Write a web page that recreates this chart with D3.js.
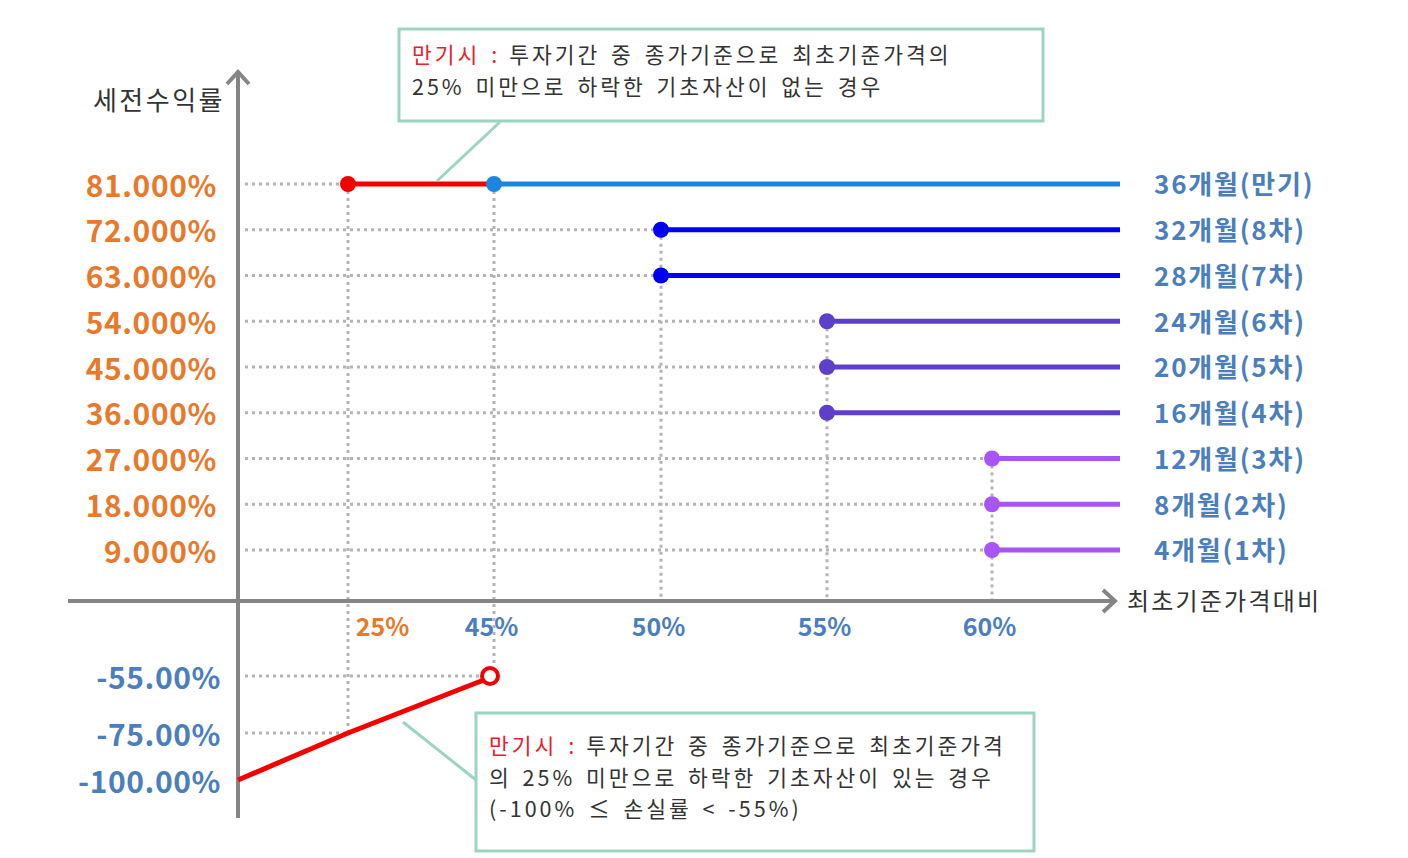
<!DOCTYPE html>
<html>
<head>
<meta charset="utf-8">
<script src="https://cdn.jsdelivr.net/npm/d3@7"></script>
<style>
  body { margin: 0; background: #fff; }
  svg { display: block; font-family: "Noto Sans CJK KR", "Noto Sans", sans-serif; }
</style>
</head>
<body>
<svg id="chart" width="1408" height="858"></svg>
<script>
// payoff rows (early redemption schedule)
const rowLabels = ["36개월(만기)", "32개월(8차)", "28개월(7차)", "24개월(6차)", "20개월(5차)",
                   "16개월(4차)", "12개월(3차)", "8개월(2차)", "4개월(1차)"];
const rowRates = [81, 72, 63, 54, 45, 36, 27, 18, 9];
const rowBarriers = [45, 50, 50, 55, 55, 55, 60, 60, 60];

// maturity with knock-in (loss case)
const lossX = [0, 25, 45];
const lossY = [-100, -75, -55];
const lossTicks = [-55, -75, -100];

// maturity without knock-in (red segment 25% ~ 45%)
const maturityFrom = 25;
const maturityTo = 45;

const xTicks = [25, 45, 50, 55, 60];

const notePrefix = "만기시 :";
const topNote = ["투자기간 중 종가기준으로 최초기준가격의", "25% 미만으로 하락한 기초자산이 없는 경우"];
const bottomNote = ["투자기간 중 종가기준으로 최초기준가격", "의 25% 미만으로 하락한 기초자산이 있는 경우", "(-100% ≤ 손실률 < -55%)"];

const rowColors = ["#1a86e0", "#0000f5", "#0000f5", "#5e3fc8", "#5e3fc8", "#5e3fc8", "#a855f7", "#a855f7", "#a855f7"];
const orange = "#e8792a";
const blueText = "#4a7ebd";
const grid = "#b4b4b4";
const axisGray = "#858585";
const teal = "#9ed3c3";

const svg = d3.select("#chart");

// schematic (piecewise) scales, like the original diagram
const x = d3.scaleLinear()
  .domain([0, 25, 45, 50, 55, 60, 65])
  .range([238, 348, 494, 661, 827, 992, 1120]);
const y = d3.scaleLinear()
  .domain([-100, -75, -55, 0, 9, 81])
  .range([780, 733, 676, 601, 550, 184]);

const x0 = x(0), yAxis0 = y(0);

// dotted guide lines
const guides = svg.append("g")
  .attr("stroke", grid).attr("stroke-width", 3).attr("stroke-dasharray", "3,4").attr("fill", "none");

rowRates.forEach((r, i) => {
  let xs = i === 0 ? maturityFrom : rowBarriers[i];
  guides.append("line").attr("x1", x0 + 7).attr("x2", x(xs)).attr("y1", y(r)).attr("y2", y(r));
});
// vertical guides from the first dot of each barrier down to the axis
const barrierTop = d3.rollup(rowRates.map((r, i) => [rowBarriers[i], r]), v => d3.max(v, d => d[1]), d => d[0]);
barrierTop.forEach((r, b) => {
  if (b === maturityTo) return;
  guides.append("line").attr("x1", x(b)).attr("x2", x(b)).attr("y1", y(r)).attr("y2", yAxis0);
});
guides.append("line").attr("x1", x(maturityTo)).attr("x2", x(maturityTo)).attr("y1", y(rowRates[0])).attr("y2", y(lossY[2]) - 10);
guides.append("line").attr("x1", x(maturityFrom)).attr("x2", x(maturityFrom)).attr("y1", y(rowRates[0])).attr("y2", y(lossY[1]));
guides.append("line").attr("x1", x0 + 7).attr("x2", x(lossX[2]) - 10).attr("y1", y(lossY[2])).attr("y2", y(lossY[2]));
guides.append("line").attr("x1", x0 + 7).attr("x2", x(lossX[1])).attr("y1", y(lossY[1])).attr("y2", y(lossY[1]));

// axes
const axes = svg.append("g").attr("stroke", axisGray).attr("stroke-width", 4).attr("fill", "none");
axes.append("line").attr("x1", 68).attr("x2", 1114).attr("y1", yAxis0).attr("y2", yAxis0);
axes.append("path").attr("d", `M1103,${yAxis0 - 11}L1115,${yAxis0}L1103,${yAxis0 + 11}`);
axes.append("line").attr("x1", x0).attr("x2", x0).attr("y1", 818).attr("y2", 73);
axes.append("path").attr("d", `M${x0 - 11},84L${x0},72L${x0 + 11},84`);

// y tick labels
const yAx = svg.append("g").attr("transform", `translate(${x0},0)`)
  .call(d3.axisLeft(y).tickValues(rowRates.concat(lossTicks)).tickSize(0).tickPadding(21)
    .tickFormat(d => d > 0 ? d.toFixed(3) + "%" : "-" + Math.abs(d).toFixed(2) + "%"));
yAx.select(".domain").remove();
yAx.selectAll("text")
  .attr("font-family", "Noto Sans CJK KR, sans-serif")
  .attr("font-size", 30).attr("font-weight", "bold")
  .attr("letter-spacing", 0.6)
  .attr("fill", d => d > 0 ? orange : blueText)
  .attr("dx", d => d > 0 ? 0 : 4)
  .attr("dy", "0.4em");

// x tick labels
const xAx = svg.append("g").attr("transform", `translate(0,${yAxis0})`)
  .call(d3.axisBottom(x).tickValues(xTicks).tickSize(0).tickPadding(17).tickFormat(d => d + "%"));
xAx.select(".domain").remove();
xAx.selectAll("text")
  .attr("font-family", "Noto Sans CJK KR, sans-serif")
  .attr("font-size", 25).attr("font-weight", "bold")
  .attr("fill", d => d === 25 ? orange : blueText)
  .attr("dx", d => d === 25 ? 34 : -3);

// axis titles
svg.append("text").attr("x", 225).attr("y", 110).attr("text-anchor", "end")
  .attr("font-size", 26).attr("letter-spacing", 2.5).attr("fill", "#333").text("세전수익률");
svg.append("text").attr("x", 1127).attr("y", yAxis0 + 9)
  .attr("font-size", 24).attr("letter-spacing", 2.2).attr("fill", "#333").text("최초기준가격대비");

// payoff lines
rowRates.forEach((r, i) => {
  svg.append("line").attr("x1", x(rowBarriers[i])).attr("x2", x(65)).attr("y1", y(r)).attr("y2", y(r))
    .attr("stroke", rowColors[i]).attr("stroke-width", 5);
});
svg.append("line").attr("x1", x(maturityFrom)).attr("x2", x(maturityTo))
  .attr("y1", y(rowRates[0])).attr("y2", y(rowRates[0]))
  .attr("stroke", "#f50000").attr("stroke-width", 5);

// loss line
const lossLine = d3.line().x(d => x(d[0])).y(d => y(d[1]));
svg.append("path").datum(lossX.map((v, i) => [v, lossY[i]]))
  .attr("d", lossLine).attr("fill", "none").attr("stroke", "#f50000").attr("stroke-width", 5);
svg.append("circle").attr("cx", x(lossX[2]) - 4).attr("cy", y(lossY[2])).attr("r", 8)
  .attr("fill", "#fff").attr("stroke", "#f50000").attr("stroke-width", 4);

// dots
svg.append("g").selectAll("circle").data(rowRates).join("circle")
  .attr("cx", (d, i) => x(rowBarriers[i])).attr("cy", d => y(d)).attr("r", 8)
  .attr("fill", (d, i) => rowColors[i]);
svg.append("circle").attr("cx", x(maturityFrom)).attr("cy", y(rowRates[0])).attr("r", 8).attr("fill", "#f50000");

// row labels on the right
svg.append("g").selectAll("text").data(rowLabels).join("text")
  .attr("x", 1154).attr("y", (d, i) => y(rowRates[i])).attr("dy", "0.4em")
  .attr("font-size", 26).attr("font-weight", "bold").attr("letter-spacing", 1.8).attr("fill", blueText)
  .text(d => d);

// callouts
function callout(bx, by, bw, bh, pointer, lines, firstBase, lineH) {
  svg.append("line").attr("x1", pointer[0]).attr("y1", pointer[1]).attr("x2", pointer[2]).attr("y2", pointer[3])
    .attr("stroke", teal).attr("stroke-width", 3);
  svg.append("rect").attr("x", bx).attr("y", by).attr("width", bw).attr("height", bh)
    .attr("fill", "#fff").attr("stroke", teal).attr("stroke-width", 3);
  const g = svg.append("g").attr("font-size", 21.5).attr("letter-spacing", 3)
    .attr("word-spacing", 3).attr("fill", "#333");
  const tx = bx + 13;
  // red prefix, then the rest of the first line measured after it
  const pre = g.append("text").attr("x", tx).attr("y", by + firstBase).attr("fill", "#e8202a").text(notePrefix);
  const preW = pre.node().getComputedTextLength();
  lines.forEach((l, i) => {
    g.append("text")
      .attr("x", i === 0 ? tx + preW + 9 : tx)
      .attr("y", by + firstBase + i * lineH)
      .text(l);
  });
}
callout(399, 29, 644, 92, [500, 122, 437, 181], topNote, 34, 31.5);
callout(476, 713, 558, 138, [476, 780, 403, 722], bottomNote, 41, 31.5);
</script>
</body>
</html>
